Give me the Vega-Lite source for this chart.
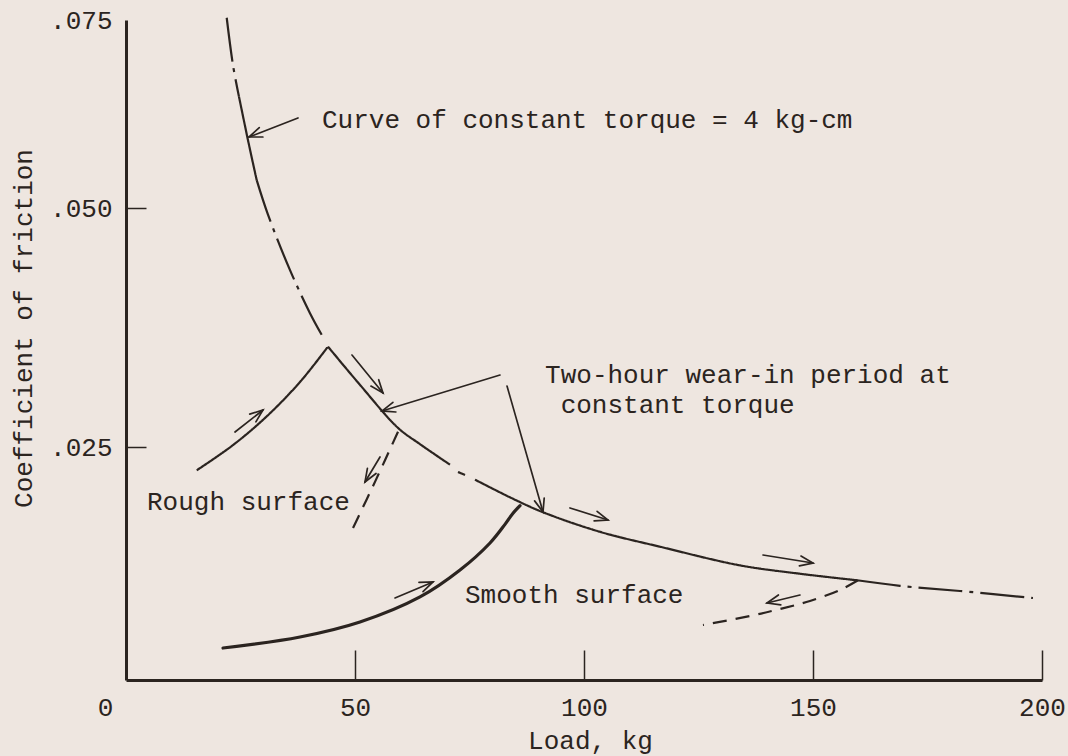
{
  "$schema": "https://vega.github.io/schema/vega-lite/v6.json",
  "width": 916,
  "height": 660,
  "autosize": {"type": "none"},
  "padding": {"left": 126, "top": 20, "right": 26, "bottom": 76},
  "background": "#eee6e0",
  "config": {"view": {"stroke": null}, "font": "Liberation Mono"},
  "datasets": {
    "curves": [
      {"curve": "torque", "segment": "t1", "kind": "constant-torque", "load": 21.99, "mu": 0.0753},
      {"curve": "torque", "segment": "t1", "kind": "constant-torque", "load": 23.36, "mu": 0.0690},
      {"curve": "torque", "segment": "t1", "kind": "constant-torque", "load": 24.67, "mu": 0.0648},
      {"curve": "torque", "segment": "t2", "kind": "measured", "load": 24.67, "mu": 0.0648},
      {"curve": "torque", "segment": "t2", "kind": "measured", "load": 26.64, "mu": 0.0590},
      {"curve": "torque", "segment": "t2", "kind": "measured", "load": 28.54, "mu": 0.0537},
      {"curve": "torque", "segment": "t3", "kind": "constant-torque", "load": 28.54, "mu": 0.0537},
      {"curve": "torque", "segment": "t3", "kind": "constant-torque", "load": 31.0, "mu": 0.0493},
      {"curve": "torque", "segment": "t3", "kind": "constant-torque", "load": 35.81, "mu": 0.0435},
      {"curve": "torque", "segment": "t3", "kind": "constant-torque", "load": 40.17, "mu": 0.0390},
      {"curve": "torque", "segment": "t3", "kind": "constant-torque", "load": 43.0, "mu": 0.0365},
      {"curve": "torque", "segment": "t4", "kind": "measured", "load": 44.1, "mu": 0.0355},
      {"curve": "torque", "segment": "t4", "kind": "measured", "load": 51.09, "mu": 0.0315},
      {"curve": "torque", "segment": "t4", "kind": "measured", "load": 59.39, "mu": 0.0270},
      {"curve": "torque", "segment": "t4", "kind": "measured", "load": 64.19, "mu": 0.0253},
      {"curve": "torque", "segment": "t4", "kind": "measured", "load": 70.74, "mu": 0.0231},
      {"curve": "torque", "segment": "t5", "kind": "measured", "load": 72.49, "mu": 0.02232},
      {"curve": "torque", "segment": "t5", "kind": "measured", "load": 74.02, "mu": 0.0220},
      {"curve": "torque", "segment": "t6", "kind": "measured", "load": 76.2, "mu": 0.0215},
      {"curve": "torque", "segment": "t6", "kind": "measured", "load": 83.84, "mu": 0.0196},
      {"curve": "torque", "segment": "t6", "kind": "measured", "load": 91.05, "mu": 0.0180},
      {"curve": "torque", "segment": "t6", "kind": "measured", "load": 103.49, "mu": 0.0159},
      {"curve": "torque", "segment": "t6", "kind": "measured", "load": 116.59, "mu": 0.0143},
      {"curve": "torque", "segment": "t6", "kind": "measured", "load": 134.06, "mu": 0.0123},
      {"curve": "torque", "segment": "t6", "kind": "measured", "load": 147.16, "mu": 0.0114},
      {"curve": "torque", "segment": "t6", "kind": "measured", "load": 159.61, "mu": 0.0107},
      {"curve": "torque", "segment": "t7", "kind": "constant-torque", "load": 159.61, "mu": 0.0107},
      {"curve": "torque", "segment": "t7", "kind": "constant-torque", "load": 169.0, "mu": 0.0101},
      {"curve": "torque", "segment": "t7", "kind": "constant-torque", "load": 182.1, "mu": 0.00955},
      {"curve": "torque", "segment": "t7", "kind": "constant-torque", "load": 198.03, "mu": 0.0088},
      {"curve": "rough", "segment": "r1", "kind": "measured", "load": 15.44, "mu": 0.0225},
      {"curve": "rough", "segment": "r1", "kind": "measured", "load": 23.36, "mu": 0.0252},
      {"curve": "rough", "segment": "r1", "kind": "measured", "load": 30.72, "mu": 0.0282},
      {"curve": "rough", "segment": "r1", "kind": "measured", "load": 37.99, "mu": 0.0318},
      {"curve": "rough", "segment": "r1", "kind": "measured", "load": 44.1, "mu": 0.0355},
      {"curve": "rough", "segment": "r2", "kind": "return", "load": 59.39, "mu": 0.0266},
      {"curve": "rough", "segment": "r2", "kind": "return", "load": 54.59, "mu": 0.0215},
      {"curve": "rough", "segment": "r2", "kind": "return", "load": 49.56, "mu": 0.0163},
      {"curve": "smooth", "segment": "s1", "kind": "measured", "load": 21.18, "mu": 0.00343},
      {"curve": "smooth", "segment": "s1", "kind": "measured", "load": 37.99, "mu": 0.00461},
      {"curve": "smooth", "segment": "s1", "kind": "measured", "load": 51.09, "mu": 0.00622},
      {"curve": "smooth", "segment": "s1", "kind": "measured", "load": 64.19, "mu": 0.00891},
      {"curve": "smooth", "segment": "s1", "kind": "measured", "load": 72.93, "mu": 0.0118},
      {"curve": "smooth", "segment": "s1", "kind": "measured", "load": 79.48, "mu": 0.0147},
      {"curve": "smooth", "segment": "s1", "kind": "measured", "load": 82.75, "mu": 0.0167},
      {"curve": "smooth", "segment": "s1", "kind": "measured", "load": 84.5, "mu": 0.0179},
      {"curve": "smooth", "segment": "s1", "kind": "measured", "load": 86.03, "mu": 0.0187},
      {"curve": "smooth", "segment": "s2", "kind": "return", "load": 159.83, "mu": 0.0107},
      {"curve": "smooth", "segment": "s2", "kind": "return", "load": 155.9, "mu": 0.00966},
      {"curve": "smooth", "segment": "s2", "kind": "return", "load": 149.34, "mu": 0.00848},
      {"curve": "smooth", "segment": "s2", "kind": "return", "load": 142.79, "mu": 0.00762},
      {"curve": "smooth", "segment": "s2", "kind": "return", "load": 136.24, "mu": 0.00687},
      {"curve": "smooth", "segment": "s2", "kind": "return", "load": 125.98, "mu": 0.0059}
    ],
    "arrows": [
      {"piece": "a1-shaft", "load": 37.55, "mu": 0.06197},
      {"piece": "a1-shaft", "load": 26.86, "mu": 0.05944},
      {"piece": "a1-head", "load": 29.10, "mu": 0.06069},
      {"piece": "a1-head", "load": 26.86, "mu": 0.05944},
      {"piece": "a1-head", "load": 29.89, "mu": 0.05944},
      {"piece": "a2-shaft", "load": 23.80, "mu": 0.02657},
      {"piece": "a2-shaft", "load": 29.91, "mu": 0.02887},
      {"piece": "a2-head", "load": 28.36, "mu": 0.02763},
      {"piece": "a2-head", "load": 29.91, "mu": 0.02887},
      {"piece": "a2-head", "load": 27.01, "mu": 0.02844},
      {"piece": "a3-shaft", "load": 49.34, "mu": 0.03462},
      {"piece": "a3-shaft", "load": 56.11, "mu": 0.03065},
      {"piece": "a3-head", "load": 53.47, "mu": 0.03137},
      {"piece": "a3-head", "load": 56.11, "mu": 0.03065},
      {"piece": "a3-head", "load": 55.17, "mu": 0.03204},
      {"piece": "a4-shaft", "load": 81.66, "mu": 0.03253},
      {"piece": "a4-shaft", "load": 55.90, "mu": 0.02877},
      {"piece": "a4-head", "load": 58.28, "mu": 0.02967},
      {"piece": "a4-head", "load": 55.90, "mu": 0.02877},
      {"piece": "a4-head", "load": 58.93, "mu": 0.02866},
      {"piece": "a5-shaft", "load": 83.19, "mu": 0.03138},
      {"piece": "a5-shaft", "load": 91.05, "mu": 0.01803},
      {"piece": "a5-head", "load": 89.21, "mu": 0.01922},
      {"piece": "a5-head", "load": 91.05, "mu": 0.01803},
      {"piece": "a5-head", "load": 91.31, "mu": 0.01952},
      {"piece": "a6-shaft", "load": 55.46, "mu": 0.02393},
      {"piece": "a6-shaft", "load": 52.18, "mu": 0.02124},
      {"piece": "a6-head", "load": 52.71, "mu": 0.02271},
      {"piece": "a6-head", "load": 52.18, "mu": 0.02124},
      {"piece": "a6-head", "load": 54.59, "mu": 0.02216},
      {"piece": "a7-shaft", "load": 58.73, "mu": 0.00880},
      {"piece": "a7-shaft", "load": 67.03, "mu": 0.01052},
      {"piece": "a7-head", "load": 64.85, "mu": 0.00948},
      {"piece": "a7-head", "load": 67.03, "mu": 0.01052},
      {"piece": "a7-head", "load": 63.97, "mu": 0.01047},
      {"piece": "a8-shaft", "load": 96.94, "mu": 0.01846},
      {"piece": "a8-shaft", "load": 105.24, "mu": 0.01717},
      {"piece": "a8-head", "load": 102.21, "mu": 0.01707},
      {"piece": "a8-head", "load": 105.24, "mu": 0.01717},
      {"piece": "a8-head", "load": 102.86, "mu": 0.01810},
      {"piece": "a9-shaft", "load": 139.08, "mu": 0.01341},
      {"piece": "a9-shaft", "load": 150.00, "mu": 0.01255},
      {"piece": "a9-head", "load": 147.03, "mu": 0.01225},
      {"piece": "a9-head", "load": 150.00, "mu": 0.01255},
      {"piece": "a9-head", "load": 147.38, "mu": 0.01330},
      {"piece": "a10-shaft", "load": 147.16, "mu": 0.00912},
      {"piece": "a10-shaft", "load": 139.96, "mu": 0.00826},
      {"piece": "a10-head", "load": 142.45, "mu": 0.00912},
      {"piece": "a10-head", "load": 139.96, "mu": 0.00826},
      {"piece": "a10-head", "load": 142.97, "mu": 0.00807}
    ],
    "notes": [
      {"note": "Curve of constant torque = 4 kg-cm", "load": 42.79, "mu": 0.0617},
      {"note": "Two-hour wear-in period at", "load": 91.5, "mu": 0.03253},
      {"note": "constant torque", "load": 94.9, "mu": 0.02939},
      {"note": "Rough surface", "load": 4.59, "mu": 0.0191},
      {"note": "Smooth surface", "load": 74.02, "mu": 0.00912}
    ]
  },
  "encoding": {
    "x": {
      "field": "load",
      "type": "quantitative",
      "title": "Load, kg",
      "scale": {"domain": [0, 200], "nice": false, "zero": false},
      "axis": {
        "values": [0, 50, 100, 150, 200],
        "grid": false,
        "domainColor": "#2b2420",
        "domainWidth": 3,
        "tickColor": "#2b2420",
        "tickWidth": 1.5,
        "tickSize": -30,
        "tickOpacity": {"condition": {"test": "datum.value == 0", "value": 0}, "value": 1},
        "labelFont": "Liberation Mono",
        "labelFontSize": 26,
        "labelColor": "#2b2420",
        "labelPadding": 44,
        "labelFlush": false,
        "labelOverlap": false,
        "labelOffset": {"condition": {"test": "datum.value == 0", "value": -21}, "value": 0},
        "titleFont": "Liberation Mono",
        "titleFontSize": 26,
        "titleFontWeight": "normal",
        "titleColor": "#2b2420",
        "titleX": 464,
        "titleY": 60,
        "titleAlign": "center",
        "titleBaseline": "middle"
      }
    },
    "y": {
      "field": "mu",
      "type": "quantitative",
      "title": "Coefficient of friction",
      "scale": {"domain": [0, 0.025, 0.05, 0.075], "range": [660, 427, 188, 0], "nice": false, "zero": false},
      "axis": {
        "values": [0.025, 0.05, 0.075],
        "labelExpr": "replace(format(datum.value, '.3f'), '0.', '.')",
        "grid": false,
        "domainColor": "#2b2420",
        "domainWidth": 3,
        "tickColor": "#2b2420",
        "tickWidth": 1.5,
        "tickSize": -20,
        "tickOpacity": {"condition": {"test": "datum.value > 0.06", "value": 0}, "value": 1},
        "labelFont": "Liberation Mono",
        "labelFontSize": 26,
        "labelColor": "#2b2420",
        "labelPadding": 34,
        "labelOverlap": false,
        "labelFlush": false,
        "labelBaseline": "middle",
        "titleFont": "Liberation Mono",
        "titleFontSize": 26,
        "titleFontWeight": "normal",
        "titleColor": "#2b2420",
        "titleAngle": -90,
        "titleX": -103,
        "titleY": 308,
        "titleAlign": "center",
        "titleBaseline": "middle"
      }
    }
  },
  "layer": [
    {
      "data": {"name": "curves"},
      "transform": [{"filter": "datum.segment != 's1'"}],
      "mark": {"type": "line", "color": "#2b2420", "strokeWidth": 2.2, "strokeCap": "butt", "interpolate": "catmull-rom"},
      "encoding": {
        "detail": {"field": "segment"},
        "strokeDash": {
          "field": "kind",
          "type": "nominal",
          "scale": {"domain": ["measured", "constant-torque", "return"], "range": [[1, 0], [44, 7, 4, 7], [14, 9]]},
          "legend": null
        },
        "order": {"value": null}
      }
    },
    {
      "data": {"name": "curves"},
      "transform": [{"filter": "datum.segment == 's1'"}],
      "mark": {"type": "line", "color": "#2b2420", "strokeWidth": 3.2, "strokeCap": "round", "interpolate": "catmull-rom"},
      "encoding": {"order": {"value": null}}
    },
    {
      "data": {"name": "arrows"},
      "mark": {"type": "line", "color": "#2b2420", "strokeWidth": 1.7, "strokeCap": "round", "strokeJoin": "miter"},
      "encoding": {"detail": {"field": "piece"}, "order": {"value": null}}
    },
    {
      "data": {"name": "notes"},
      "mark": {"type": "text", "align": "left", "baseline": "middle", "font": "Liberation Mono", "fontSize": 26, "color": "#2b2420"},
      "encoding": {"text": {"field": "note"}}
    }
  ]
}
